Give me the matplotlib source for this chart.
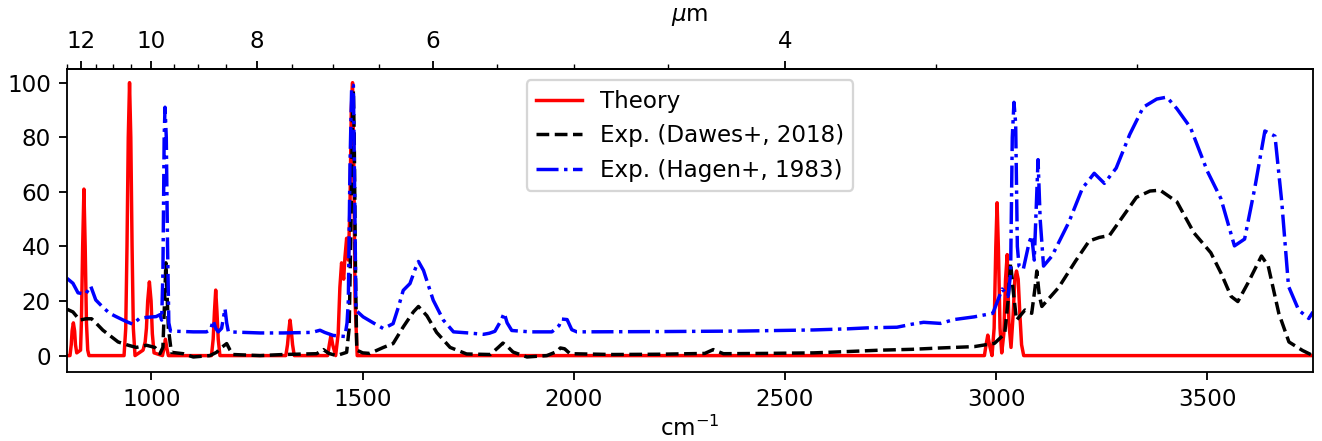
import numpy as np
import matplotlib
matplotlib.use("Agg")
import matplotlib.pyplot as plt
from matplotlib.ticker import FixedLocator

# theory spectrum (cm^-1, relative intensity)
theory_x = [800, 807, 810, 812, 815, 818, 820, 823, 832, 834, 837, 840, 843, 846, 849, 852,
            935, 939, 942, 945, 948, 951, 954, 957, 961, 980, 985, 988, 991, 995, 999, 1002, 1006,
            1026, 1030, 1033, 1036, 1040,
            1142, 1146, 1149, 1152, 1155, 1158, 1162,
            1318, 1322, 1325, 1328, 1331, 1334, 1338,
            1417, 1421, 1425, 1429, 1436, 1442, 1446, 1450, 1455, 1458, 1462, 1466,
            1470, 1473, 1476, 1479, 1482, 1487,
            2972, 2976, 2980, 2984, 2990, 2995, 2999, 3002, 3005, 3009, 3013,
            3018, 3022, 3026, 3030, 3035, 3040, 3044, 3048, 3052, 3056, 3060, 3065, 3750]
theory_y = [0, 0, 4, 9, 12, 9, 4, 1, 2, 12, 40, 61, 40, 12, 2, 0,
            0, 10, 40, 80, 100, 80, 40, 10, 0, 2, 5, 10, 20, 27, 20, 8, 1,
            0, 3, 6, 3, 0,
            0, 6, 16, 24, 16, 6, 0,
            0, 4, 9, 13, 9, 4, 0,
            0, 4, 7.5, 4, 0, 8, 25, 34, 28, 36, 43, 35,
            55, 90, 100, 70, 20, 0,
            0, 4, 7.5, 4, 0, 10, 40, 56, 40, 10, 1,
            8, 28, 37, 12, 3, 15, 28, 31, 28, 15, 4, 0, 0]

# Dawes+ 2018
dawes_x = [800, 814, 830, 845, 858, 870, 885, 901, 921, 945, 964, 988, 1008, 1020,
           1027, 1031, 1034, 1038, 1040, 1047, 1075, 1099, 1138, 1154, 1166, 1178,
           1186, 1193, 1257, 1312, 1391, 1407, 1420, 1438, 1462, 1468, 1472, 1476,
           1478, 1480, 1483, 1486, 1500, 1517, 1549, 1572, 1596, 1620, 1632, 1652,
           1675, 1707, 1746, 1802, 1821, 1832, 1845, 1856, 1889, 1936, 1960, 1968,
           1978, 1991, 2093, 2200, 2310, 2330, 2354, 2450, 2567, 2650, 2726, 2800,
           2868, 2948, 2996, 3020, 3028, 3034, 3040, 3048, 3068, 3084, 3092, 3096,
           3102, 3108, 3148, 3188, 3220, 3244, 3268, 3300, 3332, 3364, 3388, 3428,
           3468, 3508, 3532, 3556, 3572, 3596, 3628, 3644, 3669, 3693, 3725, 3750]
dawes_y = [17, 16, 13, 13.5, 13.5, 11.7, 9.3, 7.4, 5, 3.8, 3, 3.8, 3, 0.7,
           3, 20, 34, 18, 10, 1.2, 0.7, -0.5, 0, 1.2, 3, 4.4,
           2, 0.4, 0, 0.4, 0.7, 2.2, 0.8, 0, 1.2, 10, 45, 90,
           97, 80, 30, 2, 1, 0.8, 3, 4.4, 10.5, 16, 18, 14.6,
           8.5, 3, 0.6, 0.4, 3, 4.6, 3, 1.3, -0.5, 0, 1.5, 2.8,
           2.5, 0.7, 0.4, 0.5, 0.8, 2.2, 0.7, 0.8, 1, 1.5, 2, 2.3,
           2.8, 3.3, 4.5, 8, 20, 34, 24, 13, 16.7, 15.5, 25, 31,
           22, 18, 25, 34.7, 42, 43.3, 44, 51, 58, 60.3, 60.6, 56.3,
           45, 37.7, 30.3, 21.7, 19.8, 26.6, 36.5, 32.8, 15.5, 5, 1.9, 0]

# Hagen+ 1983
hagen_x = [800, 814, 826, 844, 856, 868, 885, 901, 916, 940, 956, 972, 988, 1011,
           1020, 1024, 1027, 1030, 1032, 1035, 1038, 1041, 1045, 1099, 1130, 1140,
           1146, 1152, 1158, 1166, 1174, 1178, 1182, 1257, 1312, 1380, 1399, 1410,
           1430, 1458, 1463, 1466, 1470, 1474, 1478, 1481, 1484, 1501, 1525, 1549,
           1572, 1585, 1596, 1612, 1625, 1632, 1644, 1667, 1691, 1715, 1750, 1786,
           1800, 1813, 1828, 1835, 1842, 1853, 1896, 1948, 1965, 1971, 1984, 1995,
           2007, 2200, 2400, 2489, 2567, 2647, 2700, 2765, 2800, 2828, 2868, 2900,
           2948, 2992, 3004, 3014, 3028, 3034, 3038, 3042, 3046, 3050, 3054, 3064,
           3078, 3084, 3090, 3096, 3099, 3104, 3112, 3132, 3172, 3204, 3232, 3256,
           3284, 3316, 3348, 3380, 3404, 3428, 3460, 3500, 3532, 3564, 3588, 3612,
           3636, 3660, 3676, 3692, 3716, 3740, 3750]
hagen_y = [28.3, 26.5, 23, 22.5, 25.5, 20.4, 17.7, 15.5, 14.3, 12.5, 11.5, 13.7, 14, 14.3,
           15, 13, 30, 80, 91, 80, 40, 12, 9, 8.7, 8.7, 9.5,
           12.9, 10, 8.7, 10, 17.2, 12, 8.7, 8.3, 8.3, 8.5, 9.3, 8.5,
           7.4, 7, 12, 20, 70, 99, 99, 60, 16.6, 14.2, 12, 9.9,
           11.7, 18, 23.9, 26.4, 32, 34.5, 31.2, 20.3, 13, 8.7, 8.3, 7.8,
           8.2, 8.9, 13, 15.6, 12, 9.2, 8.7, 8.7, 11, 13.4, 13.2, 9.5,
           8.7, 8.8, 9, 9.2, 9.4, 9.8, 10.2, 10.4, 11.5, 12.2, 11.8, 13.2,
           14.2, 15.5, 20.4, 24.4, 21.7, 30, 80, 92.8, 85, 40, 32.8, 31.6,
           41.5, 43.9, 35, 60, 71.8, 50, 32.8, 36.5, 48.9, 61.3, 66.8, 63.1,
           68.7, 81, 91, 94, 94.7, 90.4, 83.5, 67.5, 57.5, 40.2, 42.7, 61.3,
           82.3, 80.4, 56.3, 25.4, 16.7, 13.6, 16]

um_major = [4, 6, 8, 10, 12]

DPI = 165.25


def wn_to_um(x):
    x = np.asarray(x, dtype=float)
    with np.errstate(divide="ignore"):
        return np.where(x == 0, np.inf, 1e4 / np.where(x == 0, 1, x))


fig = plt.figure(figsize=(1322 / DPI, 441 / DPI), dpi=DPI)
ax = fig.add_axes([0.0507, 0.1565, 0.9425, 0.687])

ax.plot(theory_x, theory_y, "r-", label="Theory")
ax.plot(dawes_x, dawes_y, "k--", label="Exp. (Dawes+, 2018)")
ax.plot(hagen_x, hagen_y, "b-.", label="Exp. (Hagen+, 1983)")

ax.set_xlim(800, 3750)
ax.set_ylim(-6, 105)
ax.set_xlabel("cm$^{-1}$", labelpad=2)
ax.legend(loc="upper center")

top = ax.secondary_xaxis("top", functions=(wn_to_um, wn_to_um))
top.xaxis.set_major_locator(FixedLocator(um_major))
top.xaxis.set_minor_locator(FixedLocator(np.arange(2.5, 13.0, 0.5)))
top.set_xlabel(r"$\mu$m")

fig.savefig("out.png", dpi=DPI)
